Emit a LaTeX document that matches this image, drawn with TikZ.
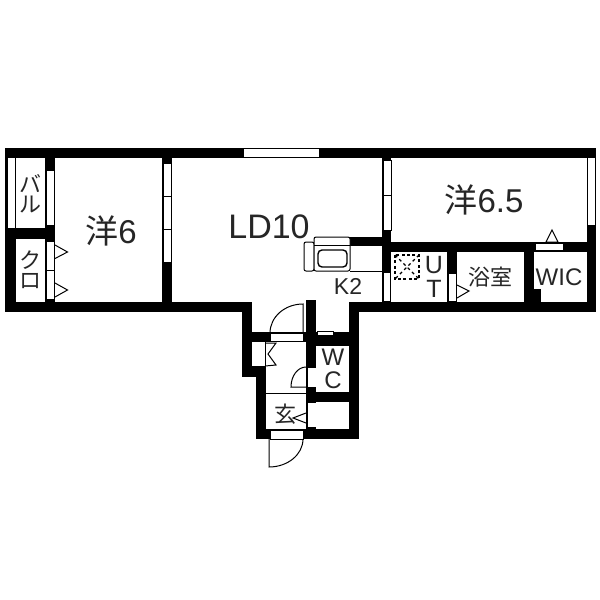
\documentclass[tikz,border=0pt]{standalone}
\usepackage{fontspec}
\setmainfont{Liberation Sans}
\newfontfamily\cjk{Noto Sans CJK JP}
\newcommand{\fs}[1]{\fontsize{#1}{#1}\selectfont}
\tikzset{
  wall/.style={fill=black,draw=none},
  win/.style={fill=white,draw=black,line width=0.45pt},
  thin line/.style={draw=black,line width=0.5pt},
  label/.style={inner sep=0pt,text=black!85},
}
\begin{document}
\begin{tikzpicture}[x=0.5pt,y=-0.5pt]
\useasboundingbox (0,0) rectangle (600,600);
\fill[white] (0,0) rectangle (600,600);
% walls
\path[wall] (5,147.5) rectangle (596,157.5);
\path[wall] (5,147.5) rectangle (7,239);
\path[wall] (5,228) rectangle (16,312);
\path[wall] (5,228) rectangle (55,239);
\path[wall] (5,302) rectangle (252,312);
\path[wall] (45,157) rectangle (55,302);
\path[wall] (162,157) rectangle (172,302);
\path[wall] (382,157) rectangle (391,302);
\path[wall] (350,237) rectangle (382,246);
\path[wall] (382,242) rectangle (596,252);
\path[wall] (587,157) rectangle (596,312);
\path[wall] (349,302) rectangle (596,312);
\path[wall] (524,242) rectangle (534,312);
\path[wall] (534,289) rectangle (541,302);
\path[wall] (447,252) rectangle (457,302);
\path[wall] (242,302) rectangle (252,377);
\path[wall] (242,366) rectangle (266,377);
\path[wall] (256,366) rectangle (266,439);
\path[wall] (252,332) rectangle (350,342);
\path[wall] (252,332) rectangle (266,342);
\path[wall] (306,300) rectangle (316,402);
\path[wall] (316,332) rectangle (349,346);
\path[wall] (349,302) rectangle (359,439);
\path[wall] (306,392) rectangle (349,402);
\path[wall] (256,429) rectangle (359,439);
\path[wall] (306,402) rectangle (316,429);
% windows and sliding doors
\path[win] (243,148.5) rectangle (319,157);
\path[win] (7,157.5) rectangle (15,228);
\path[win] (46,170) rectangle (54,225);
\path[win] (46,241.5) rectangle (54,270.5);
\path[win] (46,270.5) rectangle (54,299.5);
\path[win] (163,163) rectangle (171,196);
\path[win] (163,196) rectangle (171,229);
\path[win] (163,229) rectangle (171,262);
\path[win] (383,160) rectangle (391,195);
\path[win] (383,195) rectangle (391,230);
\path[win] (383,272) rectangle (390.5,301);
\path[win] (587.5,157.5) rectangle (595,225);
\path[win] (448,273) rectangle (456,301);
\path[win] (535,243) rectangle (563,250);
\path[win] (270,333) rectangle (303,341);
\path[win] (270,430) rectangle (303,439);
\path[win] (317,331) rectangle (333,335);
\path[win] (307,367) rectangle (316,387);
\path[win] (307,402) rectangle (316,427);
\fill[white] (252,342) rectangle (265,366);
\draw[thin line] (265,342) -- (265,366);
\fill[white] (316,346) rectangle (349,392);
\fill[white] (316,402) rectangle (349,429);
% door swings and triangles
\path[thin line] (55,245) -- (67.5,252) -- (55,258.5);
\path[thin line] (55,283) -- (67.5,290) -- (55,297);
\path[thin line] (552,242) -- (546,242) -- (552,230) -- (558,242) -- cycle;
\path[thin line] (457,285) -- (469,291) -- (457,298);
\path[thin line] (303,333) -- (303,304) arc[start angle=270,end angle=180,x radius=33,y radius=29];
\path[thin line] (269,439) -- (269,467) arc[start angle=90,end angle=0,x radius=34,y radius=28];
\path[thin line] (306,387) -- (291,387) arc[start angle=180,end angle=270,x radius=15,y radius=20];
\path[thin line] (266,393.5) -- (306,393.5);
\path[thin line] (306,413) -- (293,418) -- (306,423);
\path[thin line] (265,343) -- (276,343) -- (268,354) -- (276,365) -- (265,366);
% kitchen
\path[thin line,fill=white,rounded corners=1pt] (304,242) rectangle (314,271);
\path[thin line,fill=white,rounded corners=1pt] (314,237) rectangle (350,271);
\path[thin line] (314,245) -- (350,245);
\path[thin line,rounded corners=2pt,line width=0.7pt] (318,250) rectangle (347,267);
\path[thin line] (350,271) -- (382,271);
% ventilation square
\path[draw=black,line width=0.7pt,dash pattern=on 1.5pt off 1.2pt] (395,255) rectangle (419,279);
\path[draw=black,line width=0.6pt,dash pattern=on 1.5pt off 1.5pt] (395,255) -- (419,279) (419,255) -- (395,279);
% labels
\node[label] (yo6) at (111,231) {\fs{16.5}{\cjk 洋}6};
\node[label] (ld) at (269,227) {\fs{17}LD10};
\node[label] (yo65) at (484,200) {\fs{16.5}{\cjk 洋}6.5};
\node[label] (k2) at (348,286) {\fs{11.5}K2};
\node[label] (u) at (434,265) {\fs{12.5}U};
\node[label] (t) at (434,289) {\fs{12.5}T};
\node[label] (bath) at (490,277) {\fs{11}\cjk 浴室};
\node[label] (wic) at (559,277) {\fs{12}WIC};
\node[label] (w) at (333,357) {\fs{12}W};
\node[label] (c) at (333,380) {\fs{12}C};
\node[label] (gen) at (285,414) {\fs{11}\cjk 玄};
\node[label] (ba) at (30,184) {\fs{11}\cjk バ};
\node[label] (ru) at (30,205) {\fs{11}\cjk ル};
\node[label] (ku) at (30,260) {\fs{11}\cjk ク};
\node[label] (ro) at (30,281) {\fs{11}\cjk ロ};
\end{tikzpicture}
\end{document}
